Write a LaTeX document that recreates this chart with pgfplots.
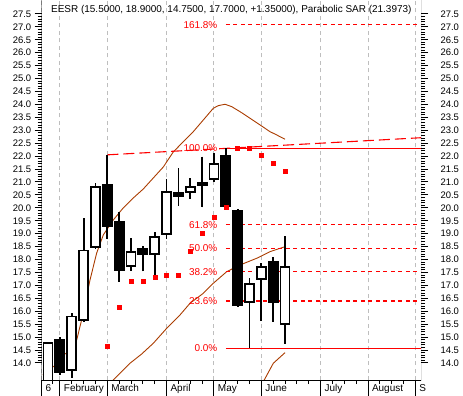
\documentclass[border=0pt]{standalone}
\usepackage{pgfplots}
\pgfplotsset{compat=1.18}
\usepgfplotslibrary{statistics}
\usepackage{fontspec}
\setmainfont{Liberation Sans}
\definecolor{sarred}{RGB}{255,0,0}
\definecolor{band}{RGB}{170,60,0}
\definecolor{gridc}{RGB}{190,190,190}

\pgfplotsset{
  cW/.style={draw=black, fill=white, line width=1.8bp, solid},
  cB/.style={draw=black, fill=black, line width=1.8bp, solid},
  fibd/.style={sarred, line width=1.2bp, dash pattern=on 4bp off 3.5bp},
  frame/.style={
    at={(0,0)}, anchor=south west, scale only axis,
    width=379.3bp, height=380bp,
    xmin=0.464, xmax=32.47, ymin=13.34, ymax=28.04,
    axis line style={draw=none},
    ytick={14,14.5,...,27.5},
    yticklabel style={/pgf/number format/fixed, /pgf/number format/fixed zerofill, /pgf/number format/precision=1, /pgf/number format/assume math mode=true},
  },
}
% style, position, low, body bottom, body top, high
\newcommand{\candle}[6]{\addplot[#1, boxplot prepared={draw position=#2, lower whisker=#3, lower quartile=#4, median=#4, upper quartile=#5, upper whisker=#6, box extend=0.76, whisker extend=0}] coordinates {};}

\begin{document}
\begin{tikzpicture}[font=\fontsize{9.5}{11}\selectfont]
\useasboundingbox (-41.7bp,-16bp) rectangle (421.3bp,380bp);

% ---- axis B: month grid, x ticks, right labels
\begin{axis}[frame,
  xtick={0.464,2,6,11,15,19,24,28,32},
  xticklabels={6,February,March,April,May,June,July,August,S},
  minor xtick={1.4,3,4,5,7,8,9,10,12,13,14,16,17,18,20,21,22,23,25,26,27,29,30,31},
  xtick pos=bottom,
  tick align=outside,
  major tick length=16bp, minor tick length=4bp,
  tick style={black, line width=1bp},
  xmajorgrids, grid style={gridc, dash pattern=on 4bp off 3.5bp, line width=1bp},
  xticklabel style={font=\fontsize{10}{12}\selectfont, anchor=north west, xshift=0.5bp, yshift=15bp},
  yticklabel pos=right,
  ytick style={draw=none},
  yticklabel style={anchor=west},
]
\addplot[draw=none] coordinates {(1,20)};
\end{axis}

% ---- axis A: data
\begin{axis}[frame,
  xtick=\empty,
  minor y tick num=4,
  ytick pos=both, yticklabel pos=left,
  tick align=outside,
  major tick length=7bp, minor tick length=4bp,
  tick style={black, line width=1bp},
  yticklabel style={anchor=east},
  boxplot/draw direction=y,
]
\addplot[band, line width=0.9bp] coordinates {
(0.574,13.535) (0.886,13.73) (1.308,13.817) (1.865,13.988) (2.287,14.309) (2.574,14.386)
(3.418,14.889) (3.975,15.933) (4.54,17.21) (5.105,18.255) (5.662,18.951) (6.506,19.531)
(7.35,20.0) (8.194,20.382) (9.038,20.73) (9.882,21.156) (10.726,21.581) (11.57,22.162)
(12.414,22.56) (13.257,22.947) (14.101,23.399) (14.945,23.852) (15.367,23.953) (15.932,24.007)
(16.498,23.914) (17.198,23.721) (18.042,23.465) (18.886,23.206) (19.73,22.947) (20.295,22.819)
(20.996,22.653)};
\addplot[band, line width=0.9bp] coordinates {
(6.0,13.10) (6.506,13.341) (7.072,13.601) (7.916,13.988) (8.903,14.347) (9.882,14.761)
(11.013,15.341) (12.135,15.856) (12.979,16.309) (14.101,16.695) (14.945,17.082)
(16.076,17.531) (17.198,17.79) (18.608,18.049) (19.73,18.305) (20.996,18.498)};
\addplot[band, line width=0.9bp] coordinates {(18.9,13.05) (19.165,13.276) (20.008,13.988) (20.996,14.398)};

% trend line through highs
\addplot[sarred, line width=1.1bp, dash pattern=on 11bp off 5bp] coordinates {(6,22.05) (32.47,22.712)};

% Fibonacci levels
\addplot[fibd] coordinates {(16,27.077) (32.47,27.077)};
\addplot[sarred, line width=1.2bp] coordinates {(16,22.30) (32.47,22.30)};
\addplot[fibd] coordinates {(16,19.347) (32.47,19.347)};
\addplot[fibd] coordinates {(16,18.435) (32.47,18.435)};
\addplot[fibd] coordinates {(16,17.523) (32.47,17.523)};
\addplot[fibd] coordinates {(16,16.394) (32.47,16.394)};
\addplot[sarred, line width=1.2bp] coordinates {(16,14.57) (32.47,14.57)};

\begin{scope}[every node/.style={anchor=east, text=sarred, font=\fontsize{10}{12}\selectfont, inner sep=0pt}]
\node at (axis cs:15.3,27.077) {161.8\%};
\node at (axis cs:15.3,22.30) {100.0\%};
\node at (axis cs:15.3,19.347) {61.8\%};
\node at (axis cs:15.3,18.435) {50.0\%};
\node at (axis cs:15.3,17.523) {38.2\%};
\node at (axis cs:15.3,16.394) {23.6\%};
\node at (axis cs:15.3,14.57) {0.0\%};
\end{scope}

% candles: style, x, low, body bottom, body top, high
\candle{cW}{1}{13.10}{13.20}{14.78}{14.78}
\candle{cB}{2}{13.52}{13.65}{14.90}{15.00}
\candle{cW}{3}{13.42}{13.74}{15.80}{15.93}
\candle{cW}{4}{15.60}{15.65}{18.35}{19.60}
\candle{cW}{5}{18.42}{18.48}{20.80}{20.95}
\candle{cB}{6}{18.78}{19.30}{20.90}{22.05}
\candle{cB}{7}{17.15}{17.60}{19.45}{19.85}
\candle{cW}{8}{17.54}{17.76}{18.30}{18.83}
\candle{cB}{9}{17.54}{18.20}{18.40}{18.53}
\candle{cW}{10}{17.32}{18.22}{18.88}{19.06}
\candle{cW}{11}{18.80}{18.98}{20.60}{21.12}
\candle{cB}{12}{20.09}{20.44}{20.57}{21.53}
\candle{cW}{13}{20.33}{20.60}{20.82}{21.14}
\candle{cB}{14}{20.02}{20.88}{20.98}{21.98}
\candle{cW}{15}{21.00}{21.12}{21.70}{22.14}
\candle{cB}{16}{20.00}{20.05}{22.00}{22.30}
\candle{cB}{17}{16.20}{16.22}{19.88}{19.95}
\candle{cW}{18}{14.57}{16.35}{17.06}{17.28}
\candle{cW}{19}{15.64}{17.24}{17.72}{17.86}
\candle{cB}{20}{15.60}{16.35}{17.89}{18.10}
\candle{cW}{21}{14.75}{15.50}{17.70}{18.90}

% Parabolic SAR
\addplot[only marks, mark=square*, mark size=2bp, sarred, draw=sarred, fill=sarred] coordinates {
(6,14.64) (7,16.15) (8,17.18) (9,17.18) (10,17.31) (11,17.41) (12,17.41) (13,18.31)
(14,19.03) (15,19.65) (16,20.04) (17,22.30) (18,22.30) (19,22.02) (20,21.71) (21,21.40)};

\node[anchor=base, font=\fontsize{10}{12}\selectfont, inner sep=0pt] at (rel axis cs:0.5,1) [yshift=-12.5bp] {EESR (15.5000, 18.9000, 14.7500, 17.7000, +1.35000), Parabolic SAR (21.3973)};

\draw[black, line width=1bp] (rel axis cs:0,1) -- (rel axis cs:0,0) -- (rel axis cs:1,0) -- (rel axis cs:1,1);
\end{axis}
\end{tikzpicture}
\end{document}
